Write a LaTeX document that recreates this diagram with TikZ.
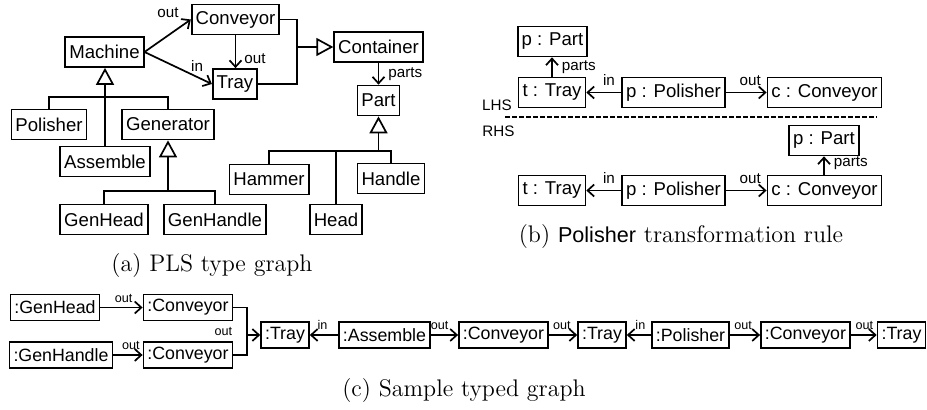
\documentclass[tikz,border=0pt]{standalone}
\usepackage{fontspec}
\newfontfamily\boxfont{Liberation Sans}
\usetikzlibrary{arrows.meta,positioning,calc}

\begin{document}
\begin{tikzpicture}[x=0.5pt,y=-0.5pt,
    cls/.style={draw,line width=0.85pt,inner xsep=2pt,inner ysep=0pt,minimum height=15pt,font=\boxfont\fontsize{9.3}{11}\selectfont},
    obj/.style={cls,minimum height=13pt,font=\boxfont\fontsize{8.9}{11}\selectfont},
    lbl/.style={inner sep=0pt,font=\boxfont\fontsize{7.6}{9}\selectfont},
    lbls/.style={inner sep=0pt,font=\boxfont\fontsize{6.3}{8}\selectfont},
    assoc/.style={-{Straight Barb[length=3.3pt,width=6pt]},line width=0.85pt},
    inh/.style={-{Triangle[open,length=8.5pt,width=9pt,fill=white]},line width=0.85pt},
    plain/.style={line width=0.85pt},
    caption/.style={font=\fontsize{12}{14}\selectfont}]
        \useasboundingbox (0,0) rectangle (927,410);

        % (a) type graph
        \node[cls] (Machine) at (104.5,52) {Machine};
        \node[cls] (Conveyor) at (235.5,19.5) {Conveyor};
        \node[cls] (Tray) at (235,84) {Tray};
        \node[cls] (Container) at (378.5,47) {Container};
        \node[cls] (Part) at (378.5,100.5) {Part};
        \node[cls] (Polisher) at (49,124.5) {Polisher};
        \node[cls] (Generator) at (168,124.5) {Generator};
        \node[cls] (Assemble) at (105,161.5) {Assemble};
        \node[cls] (Hammer) at (269,179.5) {Hammer};
        \node[cls] (Handle) at (391,178.5) {Handle};
        \node[cls] (GenHead) at (104,219.5) {GenHead};
        \node[cls] (GenHandle) at (215,219.5) {GenHandle};
        \node[cls] (Head) at (336,219.5) {Head};
        \coordinate (cj) at (297,47);
        \coordinate (mb) at (105,97);
        \coordinate (gb) at (168,191);
        \coordinate (pb) at (378.5,151);

        \draw[assoc] (Machine.east) -- node[lbl,pos=.55,xshift=-1pt,yshift=10.5pt] {out} (Conveyor.west);
        \draw[assoc] (Machine.east) -- node[lbl,pos=.75,xshift=1pt,yshift=5pt] {in} (Tray.west);
        \draw[assoc] (Conveyor.south) -- node[lbl,pos=.7,right=4pt] {out} (Conveyor.south |- Tray.north);
        \draw[plain] (Conveyor.east) -| (cj);
        \draw[plain] (Tray.east) -| (cj);
        \draw[inh] (cj) -- (Container.west);
        \draw[assoc] (Container.south -| Part.north) -- node[lbl,right=4.5pt] {parts} (Part.north);
        \draw[plain] (Polisher.north) |- (mb) -| (Generator.north);
        \draw[inh] (Assemble.north) -- (Assemble.north |- Machine.south);
        \draw[plain] (GenHead.north) |- (gb) -| (GenHandle.north);
        \draw[inh] (gb) -- (Generator.south);
        \draw[plain] (Hammer.north) |- (pb) -| (Handle.north);
        \draw[plain] (Head.north) -- (Head.north |- pb);
        \draw[inh] (pb) -- (Part.south);
        \node[caption] (capa) at (212,266) {(a) PLS type graph};

        % (b) rule
        \node[cls] (pPartL) at (552.5,41.5) {p : Part};
        \node[cls] (tTrayL) at (552,92.5) {t : Tray};
        \node[cls] (pPolL) at (673.5,92.5) {p : Polisher};
        \node[cls] (cConvL) at (824.5,92.5) {c : Conveyor};
        \node[cls] (pPartR) at (824,140.5) {p : Part};
        \node[cls] (tTrayR) at (552,190.5) {t : Tray};
        \node[cls] (pPolR) at (673.5,190.5) {p : Polisher};
        \node[cls] (cConvR) at (824.5,190.5) {c : Conveyor};
        \node[lbl] (lhs) at (497,105) {LHS};
        \node[lbl] (rhs) at (498.5,131) {RHS};

        \draw[assoc] (tTrayL.north) -- node[lbl,right=4.5pt] {parts} (tTrayL.north |- pPartL.south);
        \draw[assoc] (pPolL.west) -- node[lbl,pos=.35,above=3pt] {in} (tTrayL.east);
        \draw[assoc] (pPolL.east) -- node[lbl,pos=.6,above=3pt] {out} (cConvL.west);
        \draw[plain,dash pattern=on 2.5pt off 1pt] (505,117) -- (877,117);
        \draw[assoc] (cConvR.north -| pPartR.south) -- node[lbl,pos=.6,right=4.5pt] {parts} (pPartR.south);
        \draw[assoc] (pPolR.west) -- node[lbl,pos=.35,above=3pt] {in} (tTrayR.east);
        \draw[assoc] (pPolR.east) -- node[lbl,pos=.6,above=3pt] {out} (cConvR.west);
        \node[caption] (capb) at (681,237) {(b) {\boxfont\fontsize{10.8}{14}\selectfont Polisher} transformation rule};

        % (c) typed graph
        \node[obj] (gh) at (55,307.5) {:GenHead};
        \node[obj] (c1) at (188,307.5) {:Conveyor};
        \node[obj] (ghd) at (61,355) {:GenHandle};
        \node[obj] (c2) at (188,355) {:Conveyor};
        \node[obj] (t1) at (285,335) {:Tray};
        \node[obj] (asm) at (384.5,335) {:Assemble};
        \node[obj] (c3) at (503.5,335) {:Conveyor};
        \node[obj] (t2) at (602,335) {:Tray};
        \node[obj] (pol) at (690.5,335) {:Polisher};
        \node[obj] (c4) at (805.5,335) {:Conveyor};
        \node[obj] (t3) at (901.5,335) {:Tray};
        \coordinate (jn) at (247,335);

        \draw[assoc] (gh.east) -- node[lbls,pos=.55,above=2pt] {out} (c1.west);
        \draw[assoc] (ghd.east) -- node[lbls,pos=.6,above=2.5pt] {out} (c2.west);
        \draw[plain] (c2.east) -| (jn);
        \draw[assoc] (c1.east) -| (jn) node[lbls,anchor=east,xshift=-7pt,yshift=2pt] {out} -- (t1.west);
        \draw[assoc] (asm.west) -- node[lbls,pos=.55,above=2.5pt] {in} (t1.east);
        \draw[assoc] (asm.east) -- node[lbls,pos=.32,above=2.5pt] {out} (c3.west);
        \draw[assoc] (c3.east) -- node[lbls,pos=.46,above=2.5pt] {out} (t2.west);
        \draw[assoc] (pol.west) -- node[lbls,pos=.44,above=2.5pt] {in} (t2.east);
        \draw[assoc] (pol.east) -- node[lbls,pos=.44,above=2.5pt] {out} (c4.west);
        \draw[assoc] (c4.east) -- node[lbls,pos=.52,above=2.5pt] {out} (t3.west);
        \node[caption] (capc) at (464,391) {(c) Sample typed graph};
    \end{tikzpicture}
\end{document}
